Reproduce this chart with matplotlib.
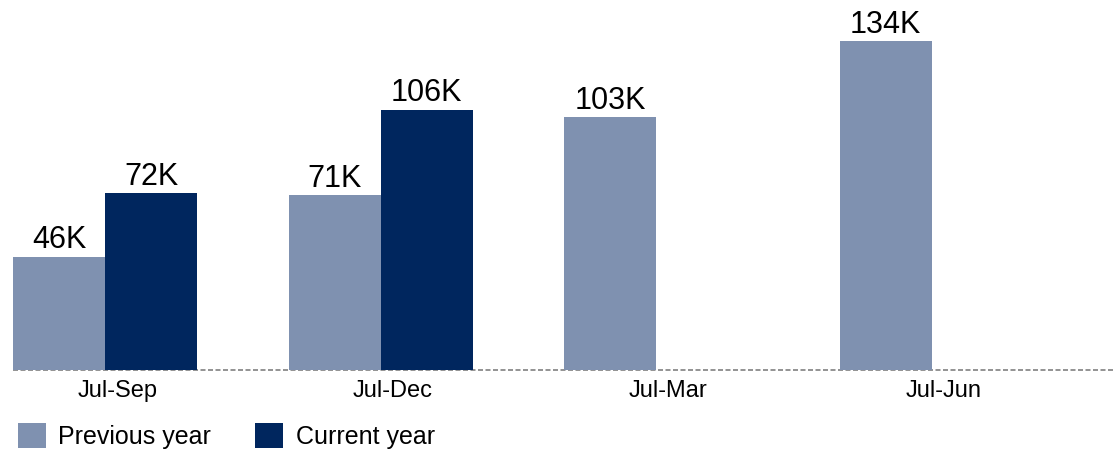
import matplotlib
matplotlib.use("Agg")
import matplotlib.pyplot as plt
from matplotlib.patches import Patch
import numpy as np

categories = ["Jul-Sep", "Jul-Dec", "Jul-Mar", "Jul-Jun"]
previous_year = [46, 71, 103, 134]
current_year = [72, 106, None, None]
series_names = ["Previous year", "Current year"]

c_prev = "#7F91B0"
c_curr = "#00265E"

plt.rcParams["font.family"] = ["Liberation Sans", "DejaVu Sans"]

fig = plt.figure(figsize=(11.14, 4.55), dpi=100)
ax = fig.add_axes([13 / 1114, 85.5 / 455, 1 - 13 / 1114, 369.5 / 455])

x = np.arange(len(categories))
w = 0.334

def draw(vals, offset, color):
    for xi, v in zip(x, vals):
        if v is None:
            continue
        ax.bar(xi + offset, v, width=w, color=color, linewidth=0)
        ax.annotate(f"{v}K", (xi + offset, v), xytext=(0, 6),
                    textcoords="offset points", ha="center", va="baseline",
                    fontsize=22, color="#000000")

draw(previous_year, -w / 2, c_prev)
draw(current_year, w / 2, c_curr)

ax.set_xlim(-w, 3.662)
ax.set_ylim(0, 150.7)

for s in ax.spines.values():
    s.set_visible(False)
ax.axhline(0, color="#808080", linewidth=1.2, linestyle=(0, (3, 1.5)), zorder=0,
           clip_on=False)

ax.set_yticks([])
ax.set_xticks(x + 0.045)
ax.set_xticklabels(categories, fontsize=17)
ax.tick_params(axis="x", length=0, pad=7.5)

handles = [Patch(facecolor=c_prev, edgecolor="none"), Patch(facecolor=c_curr, edgecolor="none")]
fig.legend(handles, series_names, loc="lower left", bbox_to_anchor=(8 / 1114, -4 / 455),
           ncol=2, frameon=False, fontsize=18, handlelength=1.12, handleheight=1.12,
           handletextpad=0.5, columnspacing=1.75, borderaxespad=0)

fig.savefig("out.png", dpi=100)
